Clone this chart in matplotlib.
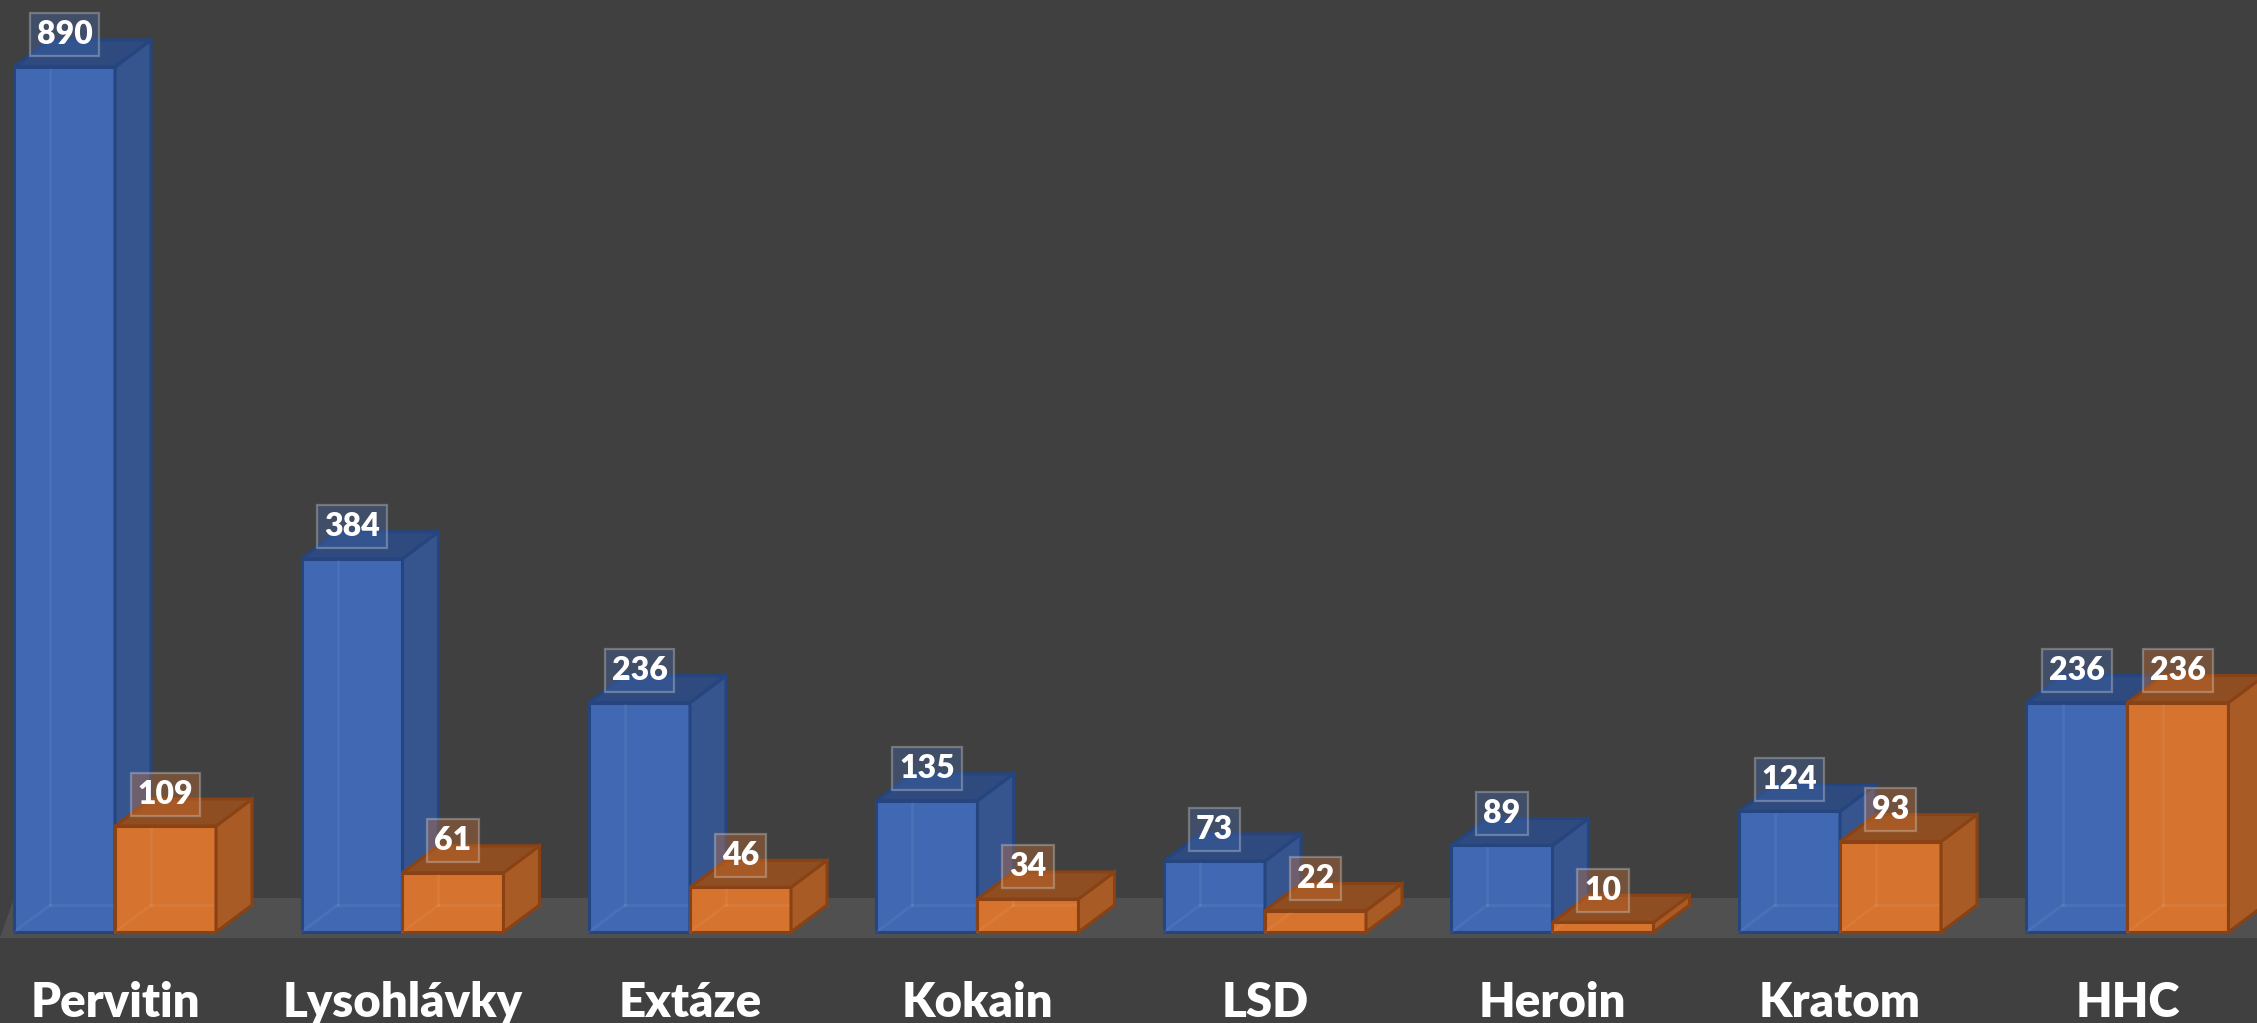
import matplotlib
matplotlib.use("Agg")
import matplotlib.pyplot as plt
from matplotlib.patches import Polygon

# data
categories = ["Pervitin", "Lysohlávky", "Extáze", "Kokain", "LSD", "Heroin", "Kratom", "HHC"]
series_a = [890, 384, 236, 135, 73, 89, 124, 236]
series_b = [109, 61, 46, 34, 22, 10, 93, 236]

# colours: front, side, top, edge
blue = ("#4169b3", "#36558f", "#2e4a7e", "#24457f")
orange = ("#d6732f", "#a95b26", "#8f4e21", "#8a4214")
bg = "#404040"
floor_col = "#515051"

W, H, DPI = 2257, 1023, 100
fig = plt.figure(figsize=(W / DPI, H / DPI), dpi=DPI, facecolor=bg)
ax = fig.add_axes([0, 0, 1, 1])
ax.set_facecolor(bg)
ax.axis("off")

# layout in pixels -> data limits
pitch = 287.5
x0_px = 115.0
y0_px = 91.0       # baseline from bottom
px_unit = 0.972
ax.set_xlim(-x0_px / pitch, (W - x0_px) / pitch)
ax.set_ylim(-y0_px / px_unit, (H - y0_px) / px_unit)

bw = 101 / pitch
dx = 36 / pitch
dy = 27 / px_unit


def box(x, w, h, cols, z):
    front, side, top, edge = cols
    fr = [(x, 0), (x + w, 0), (x + w, h), (x, h)]
    sd = [(x + w, 0), (x + w + dx, dy), (x + w + dx, h + dy), (x + w, h)]
    tp = [(x, h), (x + w, h), (x + w + dx, h + dy), (x + dx, h + dy)]
    ax.add_patch(Polygon(fr, closed=True, fc=front, ec=edge, lw=2.2, zorder=z))
    # hidden back edges seen through the face
    hid = dict(color="white", alpha=0.05, lw=2, zorder=z + 0.1)
    ax.plot([x, x + dx], [0, dy], **hid)
    ax.plot([x + dx, x + dx], [dy, h + dy], **hid)
    ax.plot([x + dx, x + w + dx], [dy, dy], **hid)
    ax.add_patch(Polygon(sd, closed=True, fc=side, ec=edge, lw=2.2, zorder=z + 0.2))
    ax.add_patch(Polygon(tp, closed=True, fc=top, ec=edge, lw=2.2, zorder=z + 0.2))


# floor
n = len(categories)
fl_lo, fl_hi = -6 / px_unit, 34 / px_unit
left = -x0_px / pitch
ax.add_patch(Polygon([(left, fl_lo), (n, fl_lo), (n, fl_hi), (left + 0.05, fl_hi)],
                     closed=True, fc=floor_col, ec="none", zorder=1))

font = ["Lato", "DejaVu Sans"]
for i in range(n):
    box(i - bw, bw, series_a[i], blue, 2 + i)
    box(i, bw, series_b[i], orange, 2.5 + i)

for i in range(n):
    for xc, v, c in ((i - bw / 2, series_a[i], blue[0]), (i + bw / 2, series_b[i], orange[0])):
        ax.text(xc, v + 32 / px_unit, str(v), ha="center", va="center", color="white",
                fontsize=23, fontweight="heavy", family=font, zorder=50,
                bbox=dict(boxstyle="square,pad=0.22", fc=c, alpha=0.35,
                          ec="#d8d8d8", lw=1.6))
    ax.text(i, 6 / H, categories[i], transform=ax.get_xaxis_transform(),
            ha="center", va="baseline", color="white", fontsize=34,
            fontweight="heavy", family=font, zorder=50)

fig.savefig("out.png", dpi=DPI, facecolor=bg)
